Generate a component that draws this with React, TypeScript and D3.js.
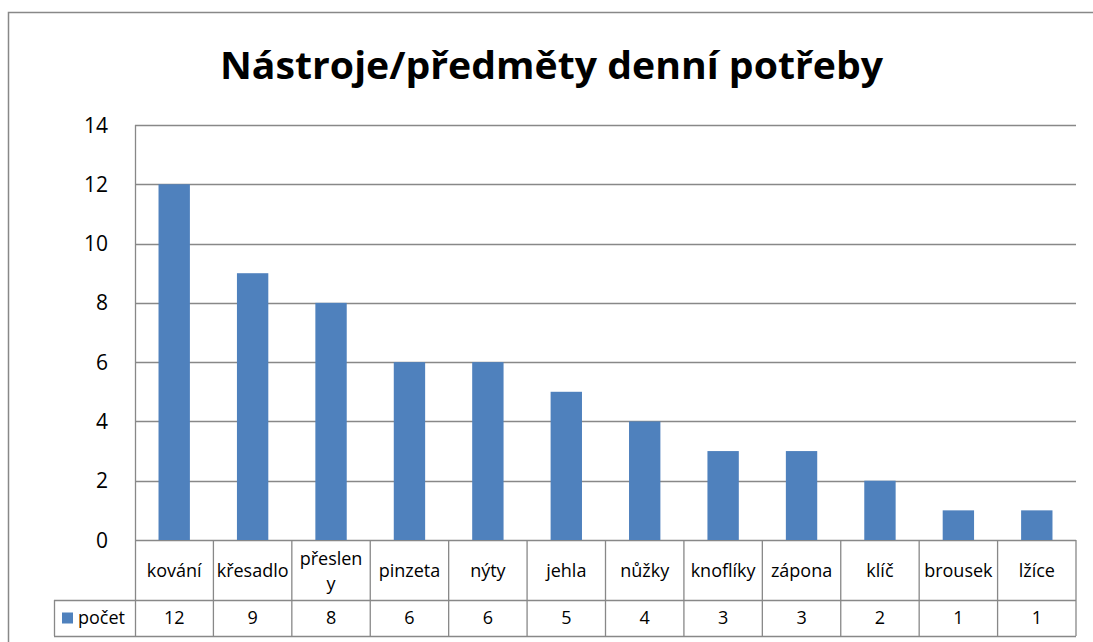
import React from "react";
import * as d3 from "d3";

// data
const categories = ["kování", "křesadlo", "přesleny", "pinzeta", "nýty", "jehla", "nůžky", "knoflíky", "zápona", "klíč", "brousek", "lžíce"];
const counts = [12, 9, 8, 6, 6, 5, 4, 3, 3, 2, 1, 1];
const yTicks = [0, 2, 4, 6, 8, 10, 12, 14];
const seriesName = "počet";
const title = "Nástroje/předměty denní potřeby";

// excel wrapped this one in its cell
const wrapped: { [k: string]: string[] } = { "přesleny": ["přeslen", "y"] };

const W = 1093;
const H = 642;
const FONT = "'Open Sans', 'Noto Sans', sans-serif";
const BAR = "#4F81BD";
const LINE = "#888888";

export default function App() {
  const left = 135, right = 1076, top = 125, bottom = 540;
  const row1 = 600, row2 = 636;

  const x = d3.scaleBand<string>().domain(categories).range([left, right]);
  const y = d3.scaleLinear().domain([0, 14]).range([bottom, top]);
  const bw = x.bandwidth() * 0.4;

  return (
    <svg width={W} height={H} style={{ position: "absolute", left: 0, top: 0, background: "#fff" }} fontFamily={FONT}>
      {/* chart frame */}
      <rect x={8.5} y={12.5} width={1200} height={800} fill="#fff" stroke={LINE} strokeWidth={1.5} />

      <text x={551.5} y={79} textAnchor="middle" fontSize={38} fontWeight="bold" textLength={663} lengthAdjust="spacingAndGlyphs" fill="#000">
        {title}
      </text>

      {/* gridlines + y labels */}
      {yTicks.map((t) => (
        <g key={t}>
          <line x1={left} x2={right} y1={Math.round(y(t)) + 0.5} y2={Math.round(y(t)) + 0.5} stroke={LINE} strokeWidth={1.3} />
          <text x={108} y={y(t)} dy="0.36em" textAnchor="end" fontSize={21} fill="#000">{t}</text>
        </g>
      ))}
      <line x1={left + 0.5} x2={left + 0.5} y1={top} y2={row2} stroke={LINE} strokeWidth={1.3} />

      {/* bars */}
      {categories.map((c, i) => (
        <rect key={c} x={(x(c) as number) + (x.bandwidth() - bw) / 2} y={y(counts[i])} width={bw} height={y(0) - y(counts[i])} fill={BAR} />
      ))}

      {/* data table */}
      <line x1={left} x2={right} y1={row1 + 0.5} y2={row1 + 0.5} stroke={LINE} strokeWidth={1.3} />
      <line x1={54} x2={right} y1={row2 + 0.5} y2={row2 + 0.5} stroke={LINE} strokeWidth={1.3} />
      <line x1={54} x2={left} y1={row1 + 0.5} y2={row1 + 0.5} stroke={LINE} strokeWidth={1.3} />
      <line x1={54.5} x2={54.5} y1={row1} y2={row2} stroke={LINE} strokeWidth={1.3} />
      {categories.map((c) => (
        <line key={c} x1={(x(c) as number) + x.bandwidth()} x2={(x(c) as number) + x.bandwidth()} y1={bottom} y2={row2} stroke={LINE} strokeWidth={1.3} />
      ))}
      {categories.map((c, i) => {
        const cx = (x(c) as number) + x.bandwidth() / 2;
        const lines = wrapped[c] || [c];
        const mid = (bottom + row1) / 2 + 1;
        return (
          <g key={c}>
            {lines.map((l, j) => (
              <text key={j} x={cx} y={mid + (j - (lines.length - 1) / 2) * 25} dy="0.35em" textAnchor="middle" fontSize={18} fill="#000">{l}</text>
            ))}
            <text x={cx} y={(row1 + row2) / 2} dy="0.36em" textAnchor="middle" fontSize={18} fill="#000">{counts[i]}</text>
          </g>
        );
      })}
      <rect x={62} y={612.5} width={11} height={11} fill={BAR} />
      <text x={78} y={(row1 + row2) / 2} dy="0.36em" fontSize={18} fill="#000">{seriesName}</text>
    </svg>
  );
}
